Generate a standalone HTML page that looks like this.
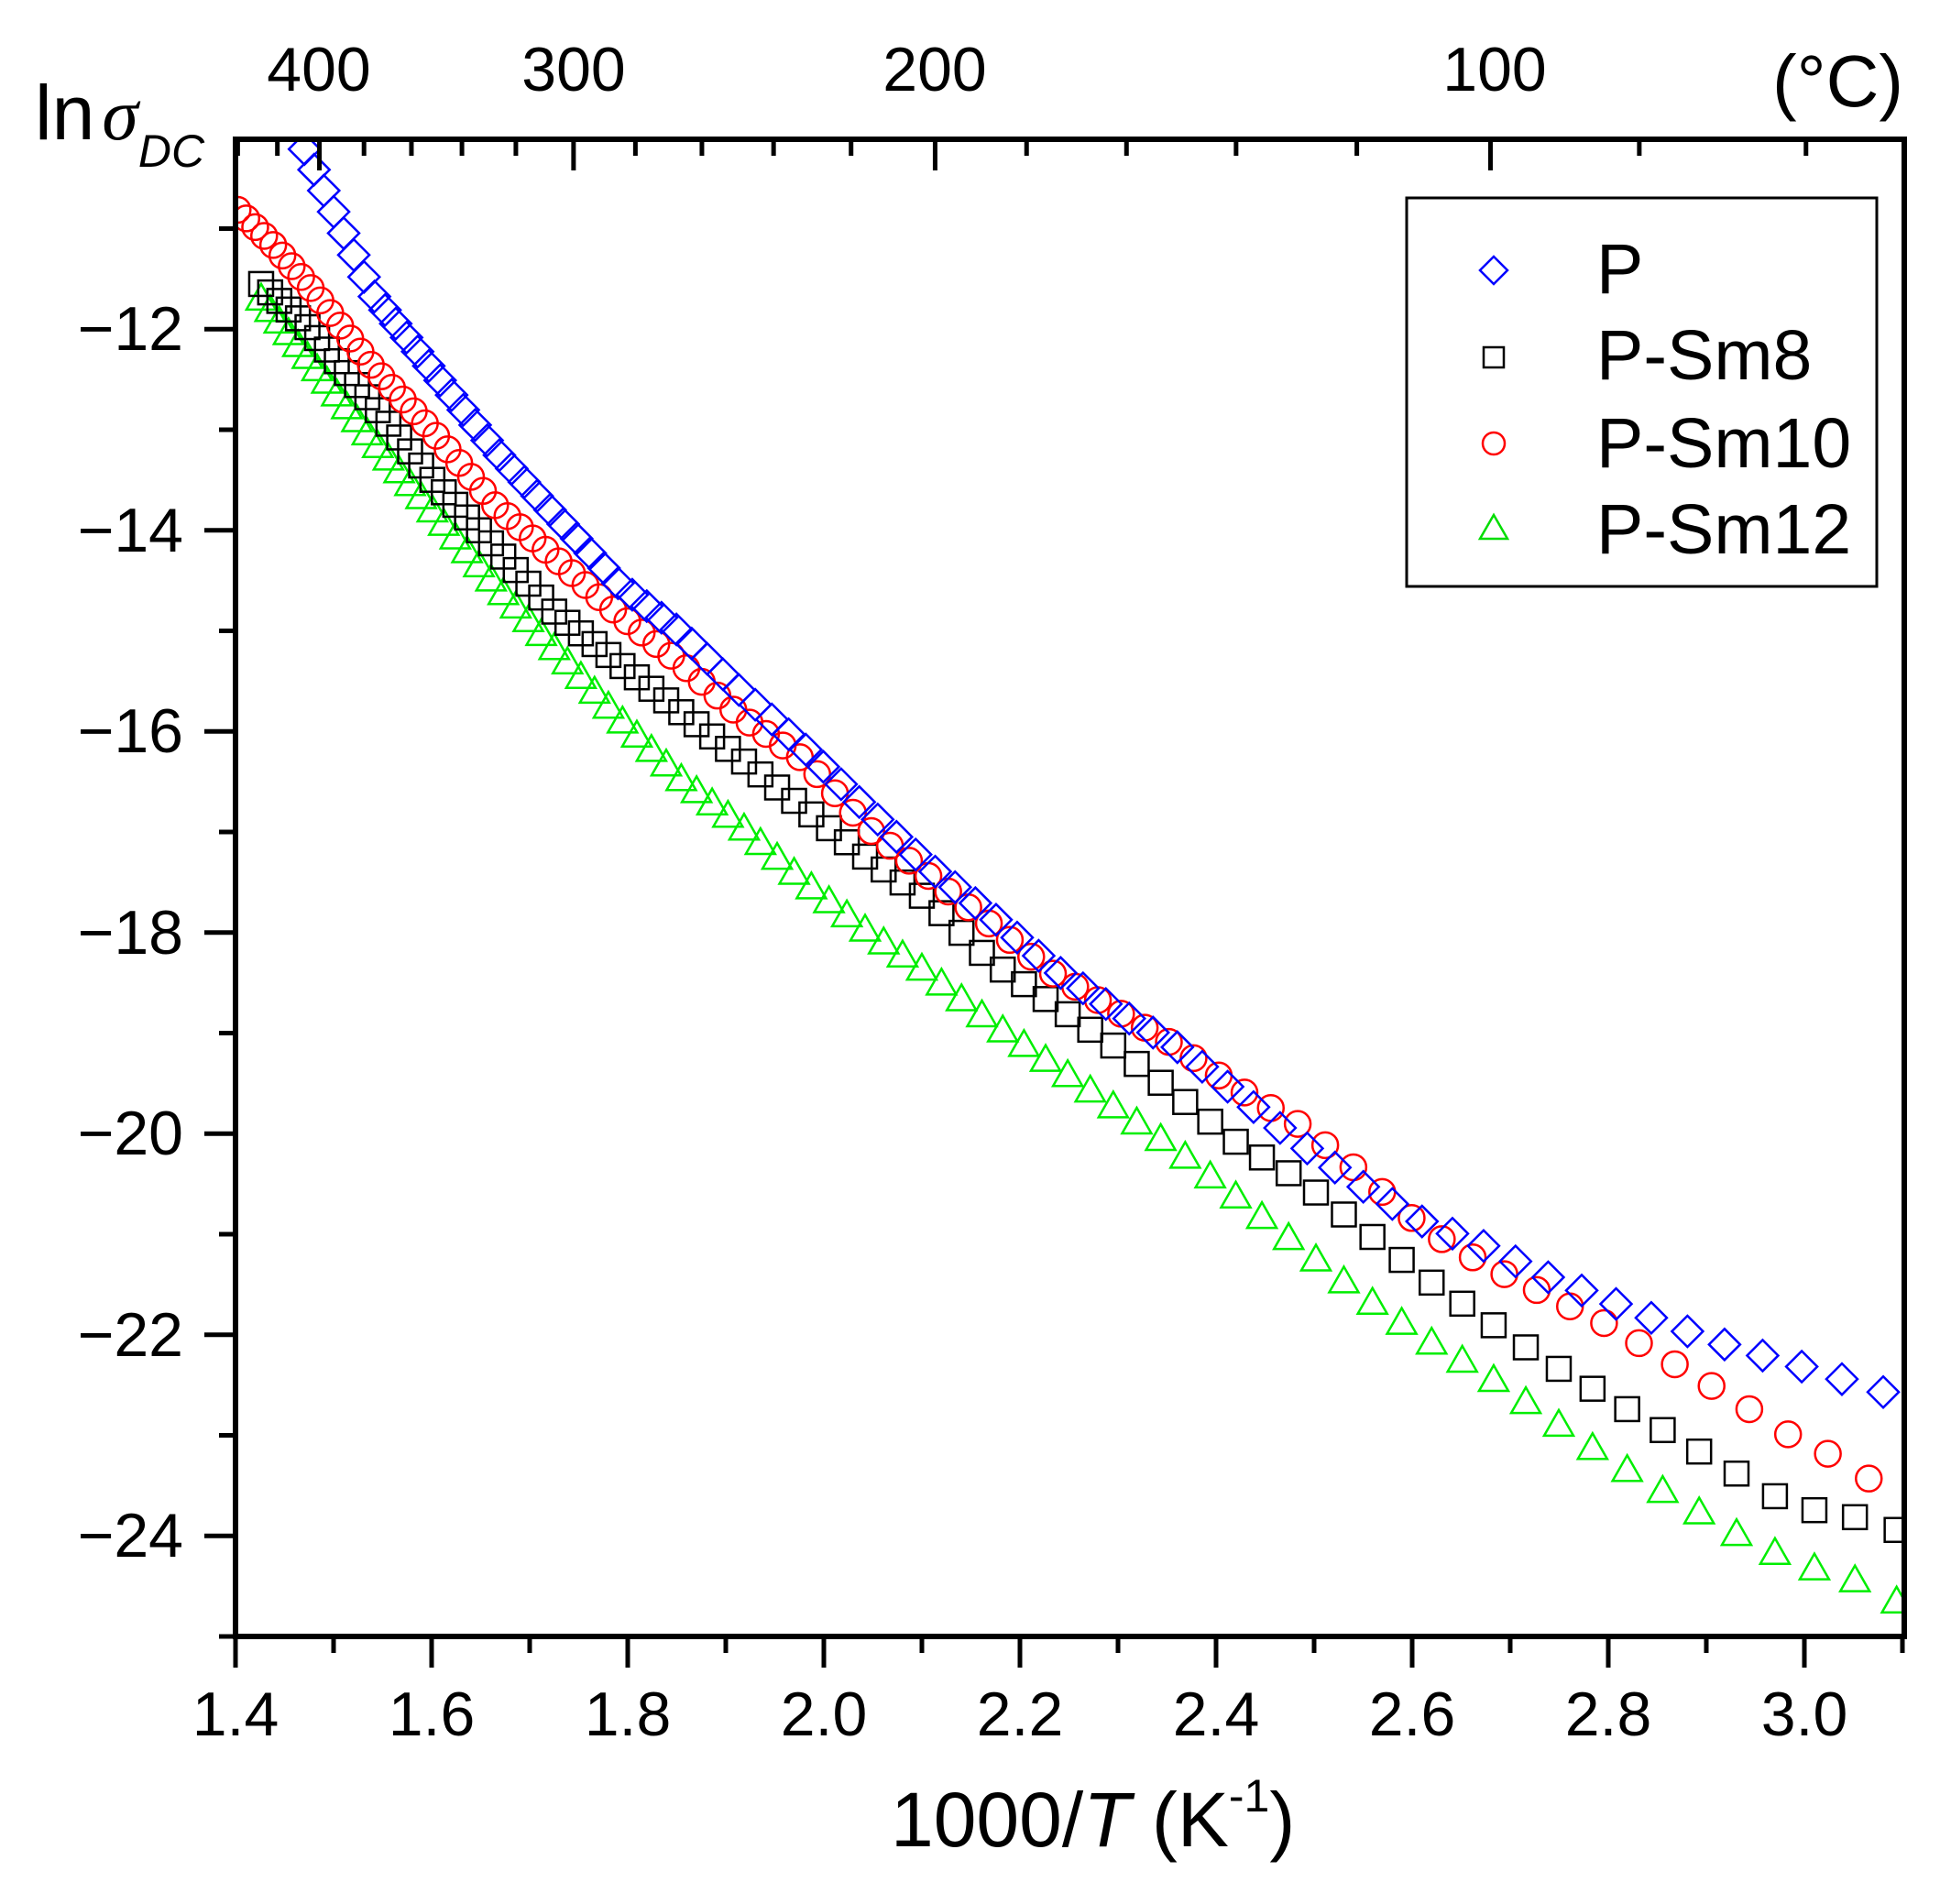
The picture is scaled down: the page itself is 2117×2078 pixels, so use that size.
<!DOCTYPE html>
<html><head><meta charset="utf-8"><style>
html,body{margin:0;padding:0;background:#fff;}
svg{display:block;font-family:"Liberation Sans",Arial,sans-serif;}
</style></head><body>
<svg id="s" width="2117" height="2078" viewBox="0 0 2117 2078" xmlns="http://www.w3.org/2000/svg">
<defs><clipPath id="cp"><rect x="257" y="152" width="1821" height="1634"/></clipPath></defs>
<g id="marks" clip-path="url(#cp)"></g>
<rect x="257" y="152" width="1821" height="1634" fill="none" stroke="#000" stroke-width="6"/>
<g id="ticks" stroke="#000" stroke-width="5"></g>
<g font-size="68" fill="#000" text-anchor="middle">
<text x="257" y="1894">1.4</text><text x="471" y="1894">1.6</text><text x="685" y="1894">1.8</text>
<text x="899" y="1894">2.0</text><text x="1113" y="1894">2.2</text><text x="1327" y="1894">2.4</text>
<text x="1541" y="1894">2.6</text><text x="1755" y="1894">2.8</text><text x="1969" y="1894">3.0</text>
</g>
<g font-size="68" fill="#000" text-anchor="end">
<text x="200" y="382">−12</text><text x="200" y="602">−14</text><text x="200" y="821">−16</text>
<text x="200" y="1041">−18</text><text x="200" y="1260">−20</text><text x="200" y="1480">−22</text>
<text x="200" y="1699">−24</text>
</g>
<g font-size="68" fill="#000" text-anchor="middle">
<text x="348" y="99">400</text><text x="626" y="99">300</text><text x="1020" y="99">200</text><text x="1631" y="99">100</text>
</g>
<text x="2077" y="116" font-size="80" text-anchor="end">(°C)</text>
<text x="38" y="152" font-size="84">ln<tspan font-style="italic" font-family="'Liberation Serif',serif" font-size="80" dx="8">σ</tspan><tspan font-style="italic" font-size="50" dy="30">DC</tspan></text>
<text x="972" y="2015" font-size="84">1000/<tspan font-style="italic">T</tspan> (K<tspan font-size="50" dy="-38">-1</tspan><tspan dy="38">)</tspan></text>
<rect x="1535" y="216" width="513" height="424" fill="#fff" stroke="#000" stroke-width="3"/>
<g font-size="77" fill="#000">
<text x="1742" y="320">P</text><text x="1742" y="414">P-Sm8</text><text x="1742" y="510">P-Sm10</text><text x="1742" y="604">P-Sm12</text>
</g>
<g fill="none" stroke-width="2.5">
<polygon points="1630,280 1645,295 1630,310 1615,295" stroke="#0000ff"/>
<rect x="1619" y="379" width="22" height="22" stroke="#000"/>
<circle cx="1630" cy="484" r="12" stroke="#ff0000"/>
<polygon points="1630,562 1645,588 1615,588" stroke="#00dd00"/>
</g>
</svg>
<script>
(function(){
var NS="http://www.w3.org/2000/svg";
var tk=document.getElementById('ticks');
function line(x1,y1,x2,y2){var l=document.createElementNS(NS,'line');l.setAttribute('x1',x1);l.setAttribute('y1',y1);l.setAttribute('x2',x2);l.setAttribute('y2',y2);tk.appendChild(l);}
function X(v){return 257+(v-1.4)*1070;}
function Y(y){return 1786-(y+25)*109.75;}
for(var i=0;i<=17;i++){var v=1.4+i*0.1;var x=X(v);line(x,1786,x,1786+(i%2==0?34:18));}
for(var y=-25;y<=-10.2;y+=1){var yy=Y(y);line(223+(Math.round(y)%2==0?0:16),yy,257,yy);}
for(var t=440;t>=40;t-=20){var v=1000/(t+273.15);if(v<1.4||v>3.1)continue;var x=X(v);line(x,152,x,152+(t%100==0?34:18));}
var series={
P:{c:'#0000ff',s:'d',p:[[246,122],[300,240],[350,305],[400,370],[450,425],[500,480],[550,520],[600,570],[650,615],[700,665],[750,712],[800,752],[850,795],[900,830],[950,860],[1000,900],[1050,940],[1100,975],[1150,1005],[1200,1025],[1250,1050],[1300,1070],[1350,1090],[1400,1108],[1450,1122],[1538,1150]]},
S10:{c:'#ff0000',s:'c',p:[[192,172],[220,200],[250,235],[300,300],[350,355],[400,415],[450,460],[500,505],[550,545],[600,590],[650,625],[700,680],[750,720],[800,760],[850,800],[900,830],[950,860],[1000,895],[1050,925],[1100,965],[1150,1010],[1200,1040],[1250,1065],[1300,1090],[1350,1120],[1400,1150],[1450,1183],[1480,1197],[1510,1216],[1538,1225]]},
S8:{c:'#000000',s:'q',p:[[211,233],[250,270],[300,330],[350,395],[400,450],[450,505],[500,545],[550,585],[600,625],[650,665],[700,705],[750,740],[800,790],[850,825],[900,860],[950,900],[1000,940],[1050,970],[1100,1010],[1150,1050],[1200,1085],[1250,1120],[1300,1150],[1350,1180],[1400,1210],[1450,1240],[1490,1245],[1538,1260]]},
S12:{c:'#00ee00',s:'t',p:[[211,245],[250,295],[300,360],[350,420],[400,480],[450,535],[500,590],[550,640],[600,680],[650,725],[700,765],[750,800],[800,840],[850,875],[900,910],[950,945],[1000,985],[1050,1025],[1100,1065],[1150,1100],[1200,1130],[1250,1165],[1300,1200],[1350,1230],[1400,1260],[1450,1285],[1500,1300],[1538,1320]]}
};
var g=document.getElementById('marks');
function conv(p){return [p[0]*1.3505, 359+(p[1]-270)*1.3263];}
function interp(pts,x){if(x<=pts[0][0])return pts[0][1];for(var i=0;i<pts.length-1;i++){if(x>=pts[i][0]&&x<=pts[i+1][0]){var f=(x-pts[i][0])/(pts[i+1][0]-pts[i][0]);return pts[i][1]+f*(pts[i+1][1]-pts[i][1]);}}return pts[pts.length-1][1];}
['S12','S8','S10','P'].forEach(function(k){
 var s=series[k];var pts=s.p.map(conv);
 var x0=pts[0][0],x1=pts[pts.length-1][0];
 var T=1000/(1.4+(x0-257)/1070);
 while(true){var x=257+(1000/T-1.4)*1070;if(x>x1+2)break;var y=interp(pts,x);
  var e;
  if(s.s=='d'){e=document.createElementNS(NS,'polygon');e.setAttribute('points',(x)+','+(y-17)+' '+(x+17)+','+y+' '+x+','+(y+17)+' '+(x-17)+','+y);}
  else if(s.s=='c'){e=document.createElementNS(NS,'circle');e.setAttribute('cx',x);e.setAttribute('cy',y);e.setAttribute('r',14);}
  else if(s.s=='q'){e=document.createElementNS(NS,'rect');e.setAttribute('x',x-13);e.setAttribute('y',y-13);e.setAttribute('width',26);e.setAttribute('height',26);}
  else {e=document.createElementNS(NS,'polygon');e.setAttribute('points',(x)+','+(y-16)+' '+(x+16)+','+(y+12)+' '+(x-16)+','+(y+12));}
  e.setAttribute('fill','none');e.setAttribute('stroke',s.c);e.setAttribute('stroke-width','2.5');
  g.appendChild(e);T-=4.5;}
});
})();
</script>
</body></html>
